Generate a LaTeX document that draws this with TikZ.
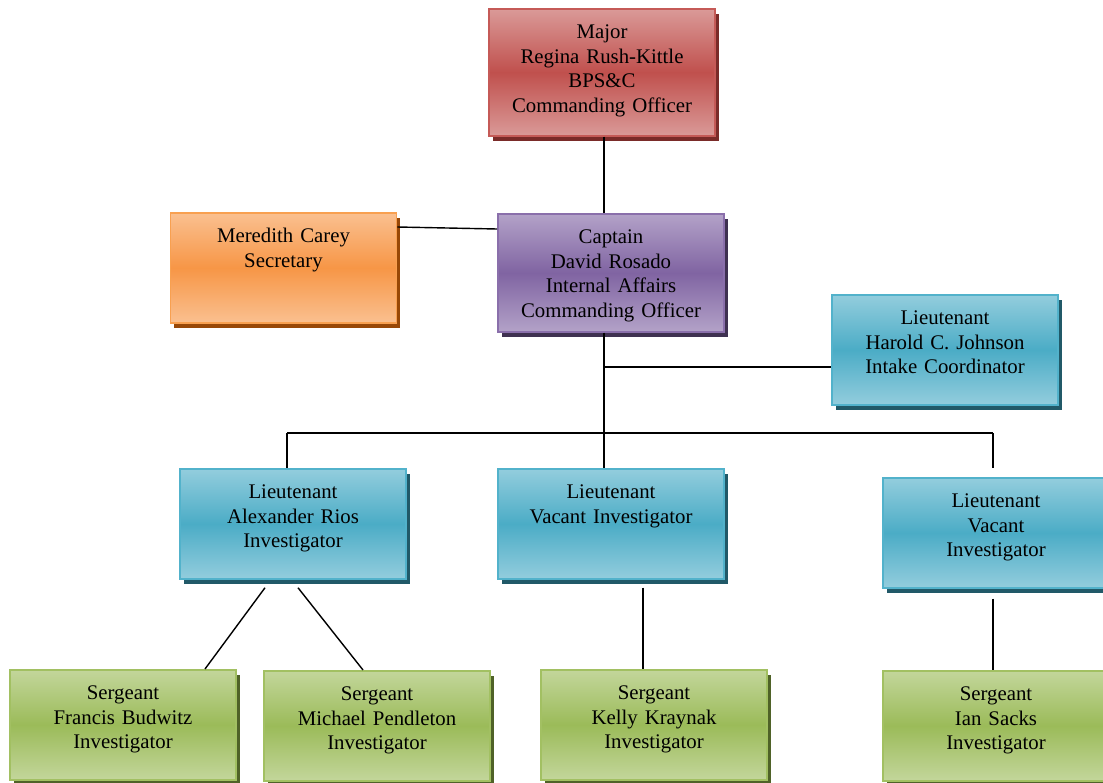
\documentclass[tikz,border=0pt]{standalone}
\usepackage{fontspec}
\setmainfont{Liberation Serif}
\usetikzlibrary{shadows,calc,positioning}

\definecolor{redlight}{HTML}{DA9A98}
\definecolor{redmid}{HTML}{C0504D}
\definecolor{redline}{HTML}{C55A57}
\definecolor{reddark}{HTML}{7A2B29}
\definecolor{purplelight}{HTML}{B3A2C8}
\definecolor{purplemid}{HTML}{8064A2}
\definecolor{purpleline}{HTML}{8A6FAB}
\definecolor{purpledark}{HTML}{3F3151}
\definecolor{orangelight}{HTML}{FAC090}
\definecolor{orangemid}{HTML}{F79646}
\definecolor{orangeline}{HTML}{F8A050}
\definecolor{orangedark}{HTML}{984807}
\definecolor{bluelight}{HTML}{93CDDD}
\definecolor{bluemid}{HTML}{4BACC6}
\definecolor{blueline}{HTML}{52B2CB}
\definecolor{bluedark}{HTML}{215968}
\definecolor{greenlight}{HTML}{C3D69B}
\definecolor{greenmid}{HTML}{9BBB59}
\definecolor{greenline}{HTML}{A2C062}
\definecolor{greendark}{HTML}{4F6228}

\tikzset{
  unit/.style={rectangle, text width=5.65cm, align=center, inner sep=0pt,
    text height=0.75cm, text depth=2cm, line width=1.2pt,
    font=\fontsize{14.8}{17.4}\selectfont},
  palette/.style={draw=#1line, top color=#1light, bottom color=#1light,
    middle color=#1mid,
    drop shadow={shadow xshift=0.09cm, shadow yshift=-0.12cm, fill=#1dark, opacity=1}},
  link/.style={line width=1pt}
}

\begin{document}
\begin{tikzpicture}[x=0.025cm, y=-0.025cm]
  \useasboundingbox (0,0) rectangle (1103,782);

  \node[unit, palette=red, anchor=north, text depth=2.425cm] (major) at (602,8)
    {Major\\Regina Rush-Kittle\\BPS\&C\\Commanding Officer};
  \node[unit, palette=purple, anchor=north, text depth=2.2cm] (captain) at (611,213)
    {Captain\\David Rosado\\Internal Affairs\\Commanding Officer};
  \node[unit, palette=orange, anchor=north] (secretary) at (283.5,212)
    {Meredith Carey\\Secretary};
  \node[unit, palette=blue, anchor=north] (intake) at (945,294)
    {Lieutenant\\Harold C. Johnson\\Intake Coordinator};

  \node[unit, palette=blue, anchor=north] (rios) at (293,468)
    {Lieutenant\\Alexander Rios\\Investigator};
  \node[unit, palette=blue, anchor=north] (vacantmid) at (611,468)
    {Lieutenant\\Vacant Investigator};
  \node[unit, palette=blue, anchor=north] (vacantright) at (996,477)
    {Lieutenant\\Vacant\\Investigator};

  \node[unit, palette=green, anchor=north] (budwitz) at (123,669)
    {Sergeant\\Francis Budwitz\\Investigator};
  \node[unit, palette=green, anchor=north] (pendleton) at (377,670)
    {Sergeant\\Michael Pendleton\\Investigator};
  \node[unit, palette=green, anchor=north] (kraynak) at (654,669)
    {Sergeant\\Kelly Kraynak\\Investigator};
  \node[unit, palette=green, anchor=north] (sacks) at (996,670)
    {Sergeant\\Ian Sacks\\Investigator};

  \coordinate (tap) at (604,367);
  \coordinate (bus) at (604,433);
  \coordinate (busleft) at (287,433);
  \coordinate (busright) at (993,433);

  \draw[link] (major.south -| tap) -- (captain.north -| tap);
  \draw[link] ($(secretary.north east)+(0,15)$) -- ($(captain.north west)+(0,16)$);
  \draw[link] (captain.south -| tap) -- (bus);
  \draw[link] (tap) -- (tap -| intake.west);
  \draw[link] (busleft) -- (busright);
  \draw[link] (busleft) -- (busleft |- rios.north);
  \draw[link] (bus) -- (bus |- vacantmid.north);
  \draw[link] (busright) -- ++(0,35);

  \draw[link] ($(rios.south)+(-28,8)$) -- ($(budwitz.north)+(82,0)$);
  \draw[link] ($(rios.south)+(5,8)$) -- ($(pendleton.north)+(-14,0)$);
  \draw[link] ($(vacantmid.south)+(32,8)$) -- ($(kraynak.north)+(-11,0)$);
  \draw[link] ($(vacantright.south)+(-3,10)$) -- ($(sacks.north)+(-3,0)$);
\end{tikzpicture}
\end{document}
